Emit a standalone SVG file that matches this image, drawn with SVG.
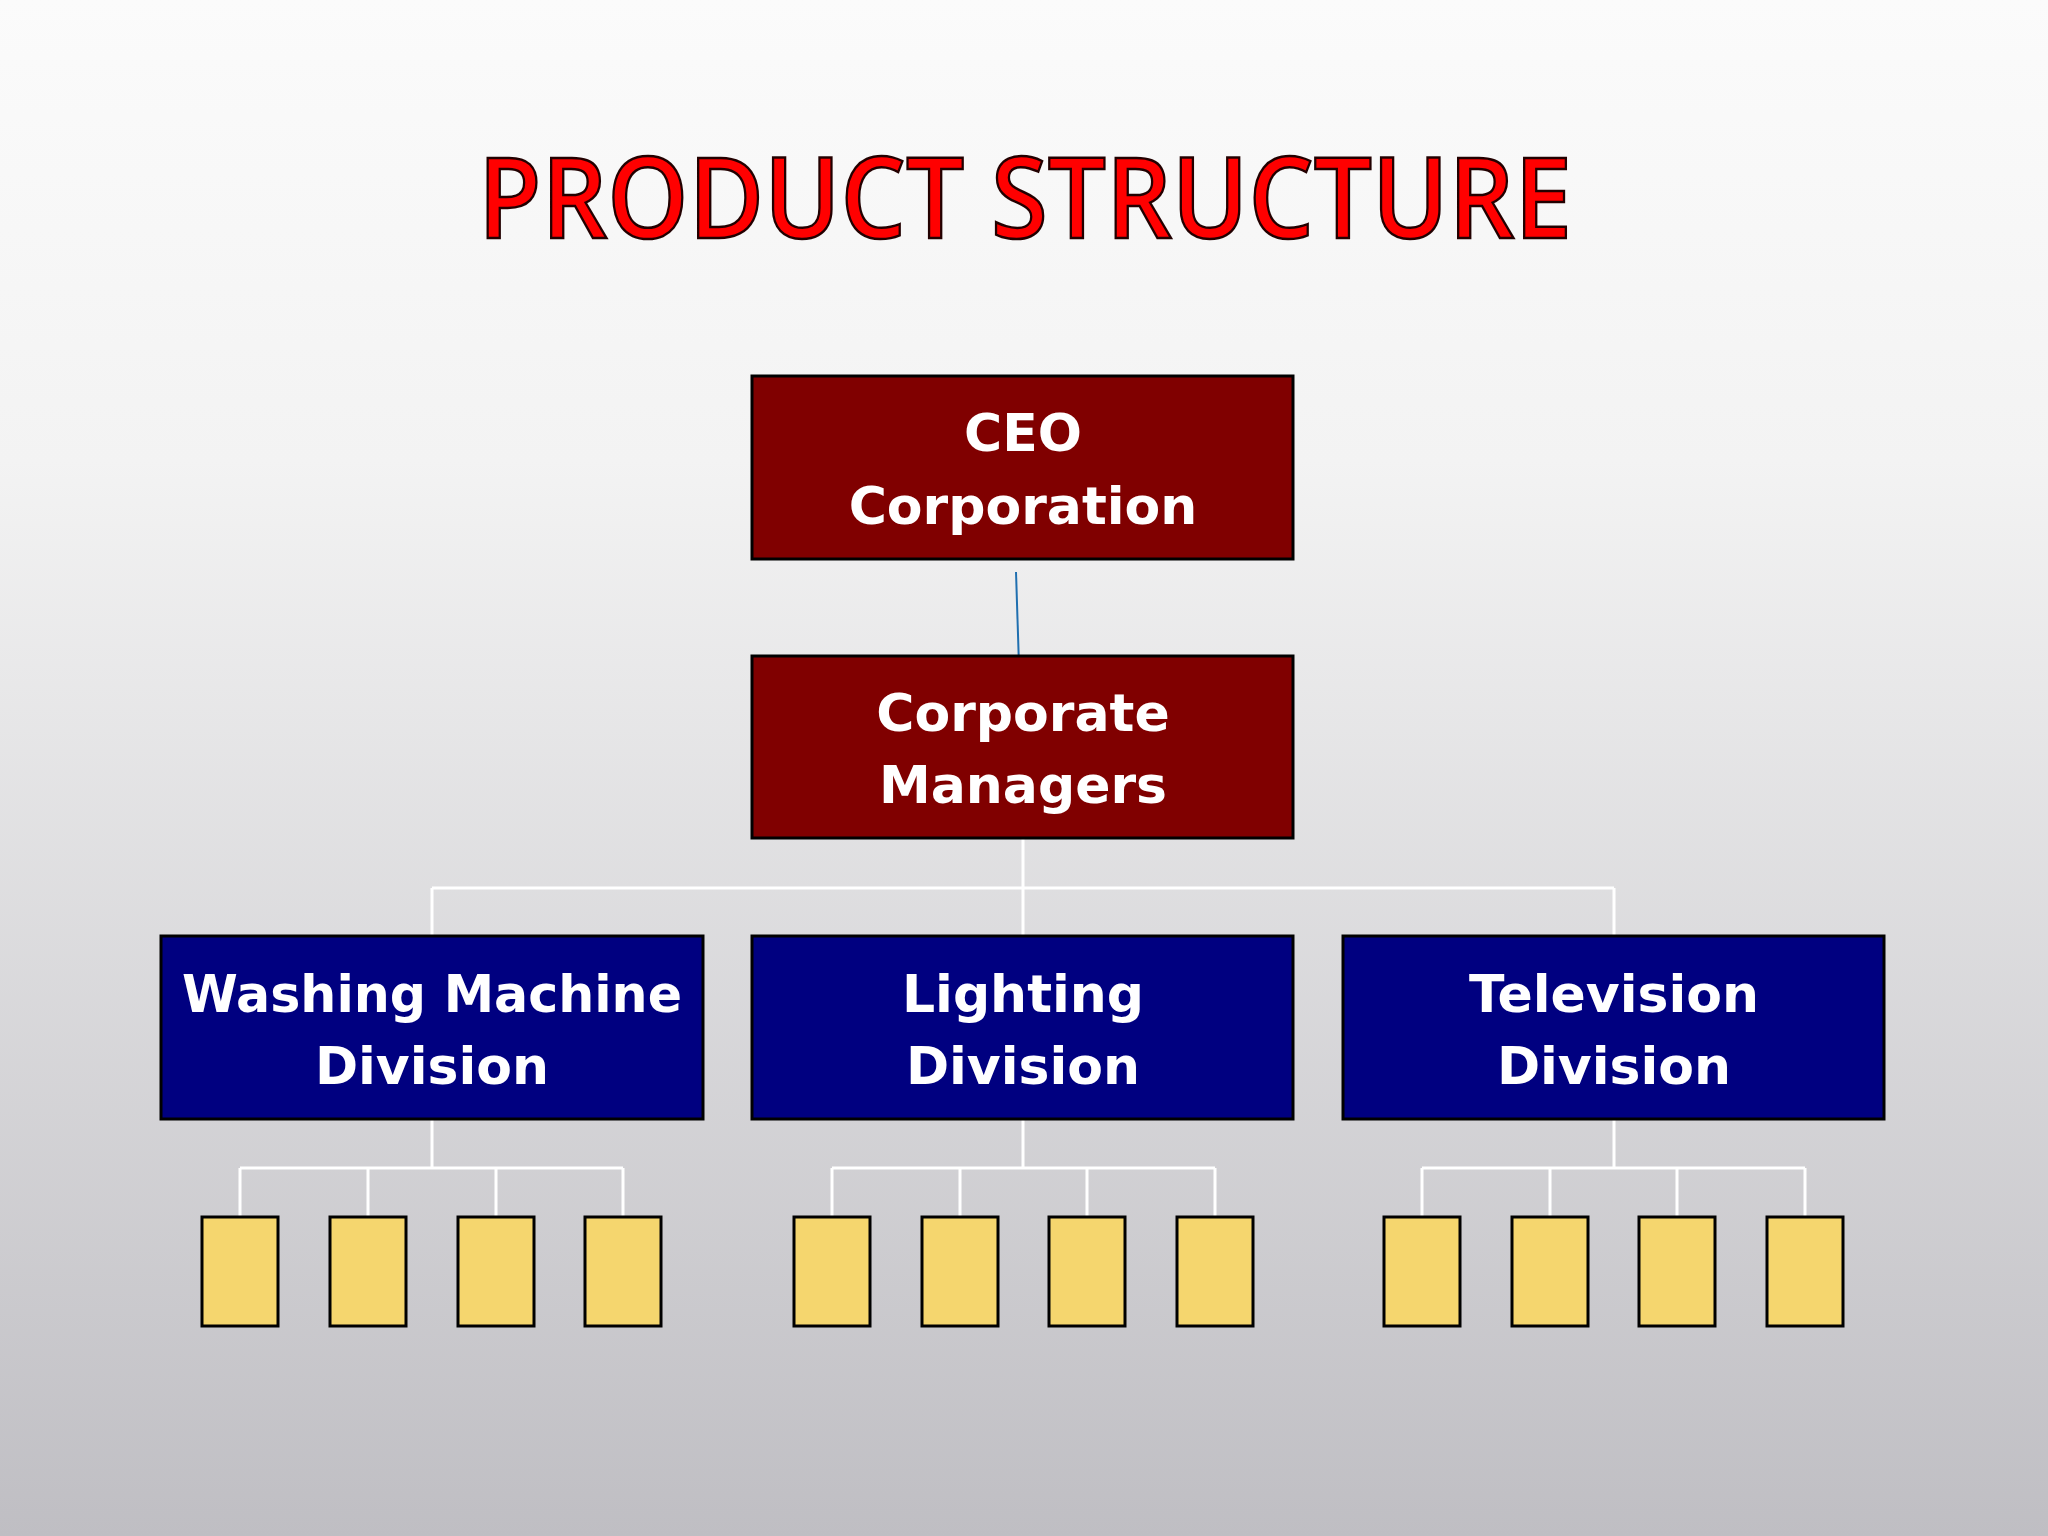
<svg xmlns="http://www.w3.org/2000/svg" width="2048" height="1536" viewBox="0 0 2048 1536">
<defs>
<linearGradient id="bg" x1="0" y1="0" x2="0" y2="1">
<stop offset="0" stop-color="#fbfbfb"/><stop offset="0.3" stop-color="#f3f3f3"/><stop offset="1" stop-color="#bfbec3"/>
</linearGradient>
<style>
.red{fill:#800000;stroke:#000;stroke-width:3}
.blue{fill:#000080;stroke:#000;stroke-width:3}
.y{fill:#f5d66e;stroke:#000;stroke-width:3}
.t{font-family:"DejaVu Sans",Verdana,sans-serif;font-weight:bold;font-size:52px;fill:#fff;text-anchor:middle}
.c{stroke:#fff;stroke-width:3;fill:none}
</style>
</defs>
<rect width="2048" height="1536" fill="url(#bg)"/>
<text x="1025" y="238" font-family="'Open Sans','Noto Sans',sans-serif" font-weight="600" font-size="112" fill="#f00" stroke="#200" stroke-width="2.5" text-anchor="middle" textLength="1094" lengthAdjust="spacingAndGlyphs">PRODUCT STRUCTURE</text>
<g id="connectors">
<line x1="1016" y1="572" x2="1019" y2="666" stroke="#1f6fb0" stroke-width="2"/>
<path class="c" d="M1023 838V936M432 888H1614M432 888V936M1614 888V936"/>
<path class="c" d="M432 1119V1168M240 1168H623M240 1168V1217M368 1168V1217M496 1168V1217M623 1168V1217"/>
<path class="c" d="M1023 1119V1168M832 1168H1215M832 1168V1217M960 1168V1217M1087 1168V1217M1215 1168V1217"/>
<path class="c" d="M1614 1119V1168M1422 1168H1805M1422 1168V1217M1550 1168V1217M1677 1168V1217M1805 1168V1217"/>
</g>
<g id="ceo"><rect class="red" x="752" y="376" width="541" height="183"/><text class="t" x="1023" y="451">CEO</text><text class="t" x="1023" y="524">Corporation</text></g>
<g id="corp"><rect class="red" x="752" y="656" width="541" height="182"/><text class="t" x="1023" y="731">Corporate</text><text class="t" x="1023" y="803">Managers</text></g>
<g id="wm"><rect class="blue" x="161" y="936" width="542" height="183"/><text class="t" x="432" y="1012" textLength="500" lengthAdjust="spacingAndGlyphs">Washing Machine</text><text class="t" x="432" y="1084">Division</text></g>
<g id="light"><rect class="blue" x="752" y="936" width="541" height="183"/><text class="t" x="1023" y="1012">Lighting</text><text class="t" x="1023" y="1084">Division</text></g>
<g id="tv"><rect class="blue" x="1343" y="936" width="541" height="183"/><text class="t" x="1614" y="1012">Television</text><text class="t" x="1614" y="1084">Division</text></g>
<g id="units">
<rect class="y" x="202" y="1217" width="76" height="109"/><rect class="y" x="330" y="1217" width="76" height="109"/><rect class="y" x="458" y="1217" width="76" height="109"/><rect class="y" x="585" y="1217" width="76" height="109"/>
<rect class="y" x="794" y="1217" width="76" height="109"/><rect class="y" x="922" y="1217" width="76" height="109"/><rect class="y" x="1049" y="1217" width="76" height="109"/><rect class="y" x="1177" y="1217" width="76" height="109"/>
<rect class="y" x="1384" y="1217" width="76" height="109"/><rect class="y" x="1512" y="1217" width="76" height="109"/><rect class="y" x="1639" y="1217" width="76" height="109"/><rect class="y" x="1767" y="1217" width="76" height="109"/>
</g>
</svg>
